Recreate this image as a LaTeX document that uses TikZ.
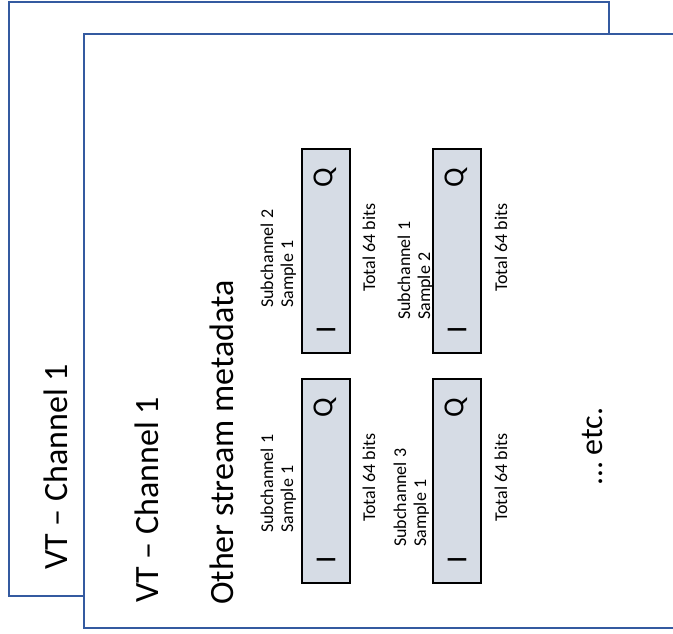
\documentclass[tikz,border=0pt]{standalone}
\usepackage{fontspec}
\setmainfont{Carlito}
\definecolor{frameblue}{RGB}{52,90,160}
\definecolor{boxfill}{RGB}{214,220,229}
\tikzset{
  frame/.style={draw=frameblue, line width=2pt, fill=white},
  iqbox/.style={draw=black, line width=1.6pt, fill=boxfill, minimum width=48pt, minimum height=204pt, inner sep=0pt},
  rtext/.style={rotate=90, inner sep=0pt, anchor=base west},
  big/.style={rtext, font=\fontsize{34}{40}\selectfont},
  small/.style={rtext, font=\fontsize{18}{22}\selectfont},
  letter/.style={rotate=90, inner sep=0pt, anchor=center, font=\fontsize{29}{34}\selectfont}
}
\begin{document}
\begin{tikzpicture}[x=1pt, y=-1pt]
\useasboundingbox (0,0) rectangle (673,633);
% back frame
\draw[frame] (9,2) rectangle (609,596);
% front frame (runs past the right edge)
\begin{scope}
\clip (0,0) rectangle (673,633);
\draw[frame] (690,34) -- (84,34) -- (84,628) -- (690,628);
\end{scope}

% IQ boxes
\node[iqbox] (b1) at (326,251) {};
\node[iqbox] (b2) at (457,251) {};
\node[iqbox] (b3) at (326,481) {};
\node[iqbox] (b4) at (457,481) {};

\foreach \n/\x/\y in {q1/325/178, q2/456/178, q3/325/408, q4/456/408}
  \node[letter] (\n) at (\x,\y) {Q};
\foreach \n/\x/\y in {i1/326/330, i2/457/330, i3/326/560, i4/457/560}
  \node[letter] (\n) at (\x,\y) {I};

% labels
\node[small] (s1a) at (273,308) {Subchannel 2};
\node[small] (s1b) at (293,308) {Sample 1};
\node[small] (s2a) at (410,320) {Subchannel 1};
\node[small] (s2b) at (430,320) {Sample 2};
\node[small] (s3a) at (273,533) {Subchannel 1};
\node[small] (s3b) at (293,533) {Sample 1};
\node[small] (s4a) at (406,547) {Subchannel 3};
\node[small] (s4b) at (426,547) {Sample 1};

\node[small] (t1) at (375,292) {Total 64 bits};
\node[small] (t2) at (507,292) {Total 64 bits};
\node[small] (t3) at (375,522) {Total 64 bits};
\node[small] (t4) at (507,522) {Total 64 bits};

% big texts
\node[big] (vtback) at (67,570) {VT – Channel 1};
\node[big] (vtfront) at (158,603) {VT – Channel 1};
\node[big] (meta) at (233,605) {Other stream metadata};
\node[big, font=\fontsize{32}{38}\selectfont] (etc) at (602,485) {… etc.};
\end{tikzpicture}
\end{document}
